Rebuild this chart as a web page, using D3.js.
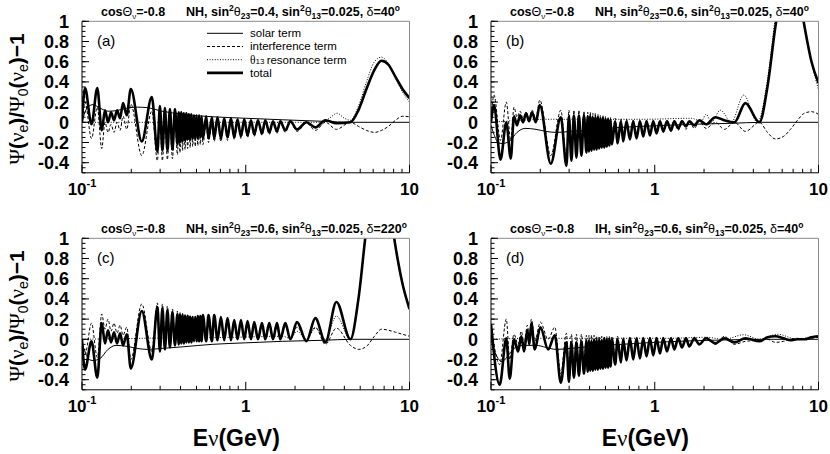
<!DOCTYPE html>
<html>
<head>
<meta charset="utf-8">
<script src="https://cdnjs.cloudflare.com/ajax/libs/d3/7.8.5/d3.min.js"></script>
<style>
	body { margin: 0; background: #fff; }
	svg { display: block; }
	text { font-family: "Liberation Sans", Arial, sans-serif; fill: #000; }
</style>
</head>
<body>
<div id="chart"></div>
<script>

///////////////////////////////////////////////////////////////////////////
///////////////////////////////// Data ////////////////////////////////////
///////////////////////////////////////////////////////////////////////////

//Panel texts
var panelLabels = ["(a)", "(b)", "(c)", "(d)"];
var hierarchy = ["NH", "NH", "NH", "IH"];
var sin23 = ["0.4", "0.6", "0.6", "0.6"];
var deltaDeg = ["40", "40", "220", "40"];
var legendLabels = ["solar term", "interference term", "resonance term", "total"];

//Axis ticks
var yTicks = [1, 0.8, 0.6, 0.4, 0.2, 0, -0.2, -0.4];
var yTickLabels = ["1", "0.8", "0.6", "0.4", "0.2", "0", "-0.2", "-0.4"];
var xMajor = [0.1, 1, 10];
var xMajorBase = ["10", "1", "10"];
var xMajorExp = ["-1", "", ""];
var xMinor = [0.2, 0.3, 0.4, 0.5, 0.6, 0.7, 0.8, 0.9, 2, 3, 4, 5, 6, 7, 8, 9];

//Energies (GeV) of the turning points
var lowNH = [0.1, 0.1043, 0.1143, 0.1240, 0.1320, 0.1382, 0.1442, 0.1504, 0.1569, 0.1637, 0.1708, 0.1781, 0.1877];
var lowIH = [0.1, 0.1130, 0.1240, 0.1301, 0.1382, 0.1463, 0.1532, 0.1592, 0.1667, 0.1715, 0.1764, 0.1851, 0.2002, 0.2232, 0.2453];
var turnE = [0.1986, 0.2318, 0.2669, 0.2888, 0.2991, 0.3098, 0.3209, 0.3324, 0.3443, 0.3567, 0.3695,
	0.3827, 0.3896, 0.3966, 0.4038, 0.4111, 0.4185, 0.4261, 0.4337, 0.4416, 0.4495, 0.4577,
	0.4659, 0.4743, 0.4829, 0.4916, 0.5005, 0.5095, 0.5187, 0.5281, 0.5376, 0.5473,
	0.5734, 0.5922, 0.6213, 0.6417, 0.6722, 0.7052, 0.7388, 0.7739, 0.8119, 0.8505,
	0.8910, 0.9346, 0.9791, 1.0256, 1.0760, 1.1272, 1.1875, 1.2563, 1.3160, 1.3923,
	1.4668, 1.5518, 1.6256, 1.7442, 1.8715, 2.0567, 2.3446, 2.6613, 3.0638, 3.5775,
	4.3571, 4.877, 5.458, 6.109, 6.742, 7.440, 8.210, 9.062, 10];

//(a) NH, sin2(23)=0.4, delta=40
var totalA = [0.0, 0.34, -0.02, 0.34, -0.08, 0.12, 0.0, 0.1, 0.02, 0.12, 0.04, 0.19, 0.07,
	0.33, -0.19, 0.25, -0.29, 0.16, -0.28, 0.14, -0.28, 0.13, -0.27, 0.13,
	-0.22, 0.1, -0.2, 0.1, -0.19, 0.09, -0.18, 0.09, -0.17, 0.08, -0.17,
	0.08, -0.16, 0.07, -0.16, 0.07, -0.16, 0.07, -0.15, 0.06, -0.16,
	0.06, -0.16, 0.05, -0.16, 0.05, -0.16, 0.04, -0.15, 0.04, -0.15,
	0.03, -0.14, 0.03, -0.13, 0.02, -0.12, 0.02, -0.11, 0.02, -0.1,
	0.01, -0.09, 0.01, -0.08, 0.01, -0.07, 0.0, -0.05, 0.02, -0.01,
	0.0, 0.12, 0.33, 0.52, 0.61, 0.57, 0.45, 0.33, 0.24];
var interfA = [0.0, 0.2, -0.16, 0.15, -0.26, 0.0, -0.1, -0.02, -0.1, 0.0, -0.08, 0.06, -0.07,
	0.18, -0.33, 0.11, -0.38, 0.04, -0.38, 0.02, -0.37, 0.02, -0.36, 0.02,
	-0.32, 0.01, -0.3, 0.01, -0.28, 0.01, -0.27, 0.0, -0.26, 0.0, -0.25,
	0.0, -0.24, -0.01, -0.24, -0.01, -0.23, -0.01, -0.22, -0.01, -0.22,
	-0.01, -0.2, -0.01, -0.19, 0.0, -0.19, 0.0, -0.18, 0.0, -0.17,
	0.0, -0.16, 0.0, -0.15, 0.0, -0.14, 0.0, -0.13, 0.0, -0.12,
	0.0, -0.11, 0.0, -0.1, 0.0, -0.09, -0.01, -0.08, 0.0, -0.07,
	0.0, -0.04, -0.08, -0.1, -0.08, -0.04, 0.02, 0.06, 0.055];
var resEA = [0.1, 2.345, 2.937, 3.241, 3.613, 4.004, 4.357, 4.877, 5.458, 6.109, 6.742, 7.44, 8.21, 9.062, 10];
var resVA = [0.0, 0.0, 0.0, 0.04, 0.09, 0.04, 0.02, 0.16, 0.4, 0.6, 0.645, 0.58, 0.44, 0.3, 0.2];

//(b) NH, sin2(23)=0.6, delta=40
var totalB = [0.0, 0.17, -0.37, 0.0, -0.36, 0.06, -0.03, 0.07, 0.0, 0.09, 0.01, 0.1, 0.0,
	0.17, -0.41, 0.05, -0.43, 0.06, -0.38, 0.07, -0.35, 0.07, -0.33, 0.07,
	-0.3, 0.06, -0.29, 0.06, -0.28, 0.05, -0.27, 0.05, -0.27, 0.05, -0.26,
	0.04, -0.25, 0.04, -0.25, 0.03, -0.24, 0.03, -0.23, 0.02, -0.22,
	0.01, -0.21, 0.01, -0.19, 0.01, -0.17, 0.01, -0.16, 0.01, -0.14,
	0.01, -0.13, 0.01, -0.11, 0.01, -0.09, 0.01, -0.08, 0.01, -0.06,
	0.01, -0.04, 0.01, -0.03, 0.02, -0.02, 0.05, 0.02, 0.0, 0.19,
	0.0, 0.35, 0.95, 1.4, 1.55, 1.35, 0.95, 0.6, 0.39];
var interfB = [0.02, 0.27, -0.18, 0.2, -0.18, 0.15, 0.05, 0.11, 0.04, 0.1, 0.04, 0.12, 0.04,
	0.22, -0.33, 0.12, -0.36, 0.12, -0.32, 0.12, -0.3, 0.12, -0.28, 0.11,
	-0.25, 0.1, -0.24, 0.1, -0.23, 0.09, -0.22, 0.09, -0.22, 0.08, -0.21,
	0.07, -0.21, 0.07, -0.2, 0.06, -0.2, 0.05, -0.19, 0.05, -0.19,
	0.04, -0.21, 0.03, -0.19, 0.03, -0.17, 0.02, -0.16, 0.02, -0.14,
	0.02, -0.13, 0.02, -0.11, 0.02, -0.1, 0.02, -0.09, 0.02, -0.08,
	0.02, -0.07, 0.01, -0.06, 0.01, -0.06, 0.0, -0.07, 0.0, -0.09,
	0.0, -0.1, -0.165, -0.14, -0.07, 0.02, 0.09, 0.105, 0.08];
var resEB = [0.1, 0.233, 0.851, 1.672, 1.925, 2.057, 2.216, 2.515, 2.937, 3.493, 4.235, 4.877, 5.458, 6.109, 6.742, 7.44, 8.21, 9.062, 10];
var resVB = [0.0, 0.03, 0.03, 0.04, 0.01, 0.08, 0.0, 0.12, 0.0, 0.27, 0.0, 0.42, 1.05, 1.6, 1.75, 1.45, 0.95, 0.6, 0.32];

//(c) NH, sin2(23)=0.6, delta=220
var totalC = [0.0, -0.3, -0.02, -0.38, 0.16, -0.04, 0.09, -0.03, 0.07, -0.04, 0.06, -0.06, 0.05,
	-0.29, 0.28, -0.2, 0.32, -0.12, 0.31, -0.1, 0.29, -0.08, 0.27, -0.06,
	0.25, -0.05, 0.24, -0.04, 0.24, -0.04, 0.23, -0.03, 0.23, -0.03, 0.22,
	-0.03, 0.22, -0.02, 0.22, -0.02, 0.23, -0.02, 0.23, -0.02, 0.24,
	-0.02, 0.24, -0.02, 0.24, -0.01, 0.22, -0.01, 0.21, -0.01, 0.19,
	0.0, 0.19, 0.0, 0.18, 0.0, 0.17, 0.0, 0.16, 0.0, 0.16,
	0.0, 0.16, 0.0, 0.16, 0.0, 0.17, -0.02, 0.21, -0.03, 0.37,
	0.0, 0.4, 1.1, 1.6, 1.75, 1.4, 0.92, 0.55, 0.3];
var interfC = [0.0, -0.15, 0.16, -0.18, 0.25, 0.1, 0.2, 0.08, 0.16, 0.06, 0.14, 0.04, 0.12,
	-0.2, 0.35, -0.12, 0.36, -0.05, 0.35, -0.03, 0.33, -0.02, 0.3, -0.01,
	0.28, -0.01, 0.27, -0.01, 0.26, -0.01, 0.25, 0.0, 0.25, 0.0, 0.24,
	0.0, 0.23, 0.0, 0.23, 0.0, 0.22, 0.0, 0.22, 0.0, 0.22,
	0.0, 0.22, 0.0, 0.21, 0.0, 0.2, 0.0, 0.19, 0.0, 0.17,
	0.0, 0.17, 0.0, 0.16, 0.0, 0.15, 0.0, 0.14, 0.0, 0.14,
	0.0, 0.13, 0.0, 0.13, 0.0, 0.12, 0.0, 0.12, -0.05, 0.11,
	-0.06, -0.1, -0.07, 0.03, 0.1, 0.09, 0.07, 0.05, 0.03];
var resEC = [0.1, 0.233, 0.851, 1.672, 1.871, 2.057, 2.345, 2.661, 3.064, 3.578, 4.357, 4.877, 5.458, 6.109, 6.742, 7.44, 8.21, 9.062, 10];
var resVC = [0.0, 0.01, 0.02, 0.03, 0.01, 0.08, 0.0, 0.11, 0.0, 0.23, 0.0, 0.42, 1.1, 1.62, 1.75, 1.42, 0.94, 0.56, 0.3];

//(d) IH, sin2(23)=0.6, delta=40
var totalD = [0.15, -0.45, 0.01, -0.39, 0.0, -0.12, 0.03, -0.12, 0.09, -0.05, 0.16, -0.1, 0.12, -0.1, 0.04,
	-0.43, -0.03, -0.42, -0.03, -0.38, -0.03, -0.36, -0.02, -0.34,
	-0.02, -0.32, -0.02, -0.31, -0.02, -0.31, -0.01, -0.3, -0.01, -0.3, -0.01,
	-0.29, -0.01, -0.29, 0.0, -0.28, 0.0, -0.28, 0.0, -0.27, 0.0,
	-0.25, 0.0, -0.23, 0.0, -0.21, 0.01, -0.2, 0.01, -0.19, 0.01,
	-0.17, 0.01, -0.16, 0.01, -0.14, 0.01, -0.12, 0.01, -0.1, 0.01,
	-0.08, 0.01, -0.07, 0.01, -0.05, 0.01, -0.04, 0.01, -0.03, 0.01,
	-0.02, 0.02, 0.03, 0.01, -0.01, 0.0, 0.0, 0.02, 0.03];
var interfD = [0.15, -0.25, 0.2, -0.2, 0.05, -0.05, 0.08, -0.05, 0.14, 0.02, 0.2, -0.02, 0.17, 0.0, 0.12,
	-0.34, 0.06, -0.33, 0.05, -0.3, 0.05, -0.28, 0.05, -0.27,
	0.04, -0.26, 0.04, -0.26, 0.04, -0.25, 0.04, -0.25, 0.03, -0.24, 0.03,
	-0.23, 0.03, -0.23, 0.03, -0.22, 0.03, -0.22, 0.03, -0.21, 0.03,
	-0.2, 0.03, -0.19, 0.02, -0.18, 0.02, -0.17, 0.02, -0.16, 0.02,
	-0.15, 0.02, -0.14, 0.02, -0.13, 0.02, -0.11, 0.02, -0.09, 0.02,
	-0.08, 0.02, -0.07, 0.02, -0.05, 0.02, -0.05, 0.03, -0.05, -0.02,
	-0.01, 0.0, -0.03, -0.02, 0.0, 0.01, 0.0, 0.01, 0.02];
var resED = [0.1, 0.176, 0.409, 1.256, 2.057, 2.661, 3.493, 4.357, 5.614, 7.44, 8.21, 10];
var resVD = [0.0, 0.01, 0.01, 0.01, 0.02, 0.0, 0.045, 0.0, 0.05, 0.0, 0.01, 0.04];

//Solar term, slowly varying
var solarE = [0.1, 0.1043, 0.1104, 0.1168, 0.1289, 0.1442, 0.1614, 0.1885, 0.217, 0.2498, 0.3086, 0.4089, 0.6239, 1.0, 1.672, 2.937, 4.481, 10];
var solarA = [0.0, 0.1, 0.16, 0.175, 0.14, 0.11, 0.115, 0.14, 0.15, 0.145, 0.11, 0.08, 0.055, 0.04, 0.025, 0.01, 0.0, 0.0];
var solarB = [-0.03, -0.12, -0.2, -0.21, -0.19, -0.1, -0.06, -0.07, -0.09, -0.1, -0.09, -0.075, -0.05, -0.035, -0.02, -0.01, 0.0, 0.0];
var solarC = [-0.04, -0.12, -0.2, -0.21, -0.19, -0.1, -0.06, -0.07, -0.09, -0.1, -0.09, -0.075, -0.05, -0.035, -0.02, -0.01, 0.0, 0.0];
var solarD = [0.0, -0.1, -0.19, -0.22, -0.15, -0.07, -0.06, -0.06, -0.08, -0.1, -0.09, -0.07, -0.05, -0.03, -0.015, -0.005, 0.0, 0.0];

///////////////////////////////////////////////////////////////////////////
//////////////////////////// Set up the svg ///////////////////////////////
///////////////////////////////////////////////////////////////////////////

var width = 830,
	height = 454;

var svg = d3.select("#chart")
	.append("svg")
	.attr("width", width)
	.attr("height", height);

var pw = 327.5,
	ph = 151.5;
var origins = [[82, 21.3], [491, 21.3], [82, 238.3], [491, 238.3]];

var energyNH = lowNH.concat(turnE),
	energyIH = lowIH.concat(turnE.slice(2));

var panels = [
	{e: energyNH, total: totalA, interf: interfA, resE: resEA, res: resVA, solar: solarA},
	{e: energyNH, total: totalB, interf: interfB, resE: resEB, res: resVB, solar: solarB},
	{e: energyNH, total: totalC, interf: interfC, resE: resEC, res: resVC, solar: solarC},
	{e: energyIH, total: totalD, interf: interfD, resE: resED, res: resVD, solar: solarD}
];

var x = d3.scaleLog().domain([0.1, 10]).range([0, pw]);
var y = d3.scaleLinear().domain([-0.5, 1]).range([ph, 0]);

var line = d3.line()
	.x(function(d) { return x(d[0]); })
	.y(function(d) { return y(d[1]); })
	.curve(d3.curveMonotoneX);

function pairs(e, v) {
	var n = Math.min(e.length, v.length);
	return d3.range(n).map(function(i) { return [e[i], v[i]]; });
}//function pairs

///////////////////////////////////////////////////////////////////////////
//////////////////////////// Draw the panels //////////////////////////////
///////////////////////////////////////////////////////////////////////////

panels.forEach(function(p, k) {
	var ox = origins[k][0],
		oy = origins[k][1];

	var g = svg.append("g")
		.attr("transform", "translate(" + ox + "," + oy + ")");

	g.append("defs").append("clipPath")
		.attr("id", "clip" + k)
		.append("rect")
		.attr("width", pw)
		.attr("height", ph);

	var plot = g.append("g").attr("clip-path", "url(#clip" + k + ")");

	//Solar term
	plot.append("path")
		.attr("d", line(pairs(solarE, p.solar)))
		.style("fill", "none")
		.style("stroke", "#000")
		.style("stroke-width", 1);

	//Resonance term
	plot.append("path")
		.attr("d", line(pairs(p.resE, p.res)))
		.style("fill", "none")
		.style("stroke", "#000")
		.style("stroke-width", 1)
		.style("stroke-dasharray", "1,1.6");

	//Interference term
	plot.append("path")
		.attr("d", line(pairs(p.e, p.interf)))
		.style("fill", "none")
		.style("stroke", "#000")
		.style("stroke-width", 1)
		.style("stroke-dasharray", "3,2");

	//Total
	plot.append("path")
		.attr("d", line(pairs(p.e, p.total)))
		.style("fill", "none")
		.style("stroke", "#000")
		.style("stroke-width", 2.6)
		.style("stroke-linejoin", "round");

	//Frame
	g.append("path")
		.attr("d", "M0,0H" + pw + "V" + ph)
		.style("fill", "none")
		.style("stroke", "#8a8a8a")
		.style("stroke-width", 1);
	g.append("path")
		.attr("d", "M0,0V" + ph + "H" + pw)
		.style("fill", "none")
		.style("stroke", "#000")
		.style("stroke-width", 1);

	//x ticks
	g.selectAll(".xmaj")
		.data(xMajor)
		.enter().append("line")
		.attr("x1", function(d) { return x(d); })
		.attr("x2", function(d) { return x(d); })
		.attr("y1", ph)
		.attr("y2", ph - 8)
		.style("stroke", "#000");
	g.selectAll(".xmin")
		.data(xMinor)
		.enter().append("line")
		.attr("x1", function(d) { return x(d); })
		.attr("x2", function(d) { return x(d); })
		.attr("y1", ph)
		.attr("y2", ph - 4)
		.style("stroke", "#000");

	//y ticks
	g.selectAll(".ymin")
		.data(y.ticks(30))
		.enter().append("line")
		.attr("x1", 0)
		.attr("x2", 3.5)
		.attr("y1", function(d) { return y(d); })
		.attr("y2", function(d) { return y(d); })
		.style("stroke", "#000");
	g.selectAll(".ymaj")
		.data(yTicks)
		.enter().append("line")
		.attr("x1", 0)
		.attr("x2", 7)
		.attr("y1", function(d) { return y(d); })
		.attr("y2", function(d) { return y(d); })
		.style("stroke", "#000");

	//y tick labels
	g.selectAll(".ylab")
		.data(yTicks)
		.enter().append("text")
		.attr("x", -13)
		.attr("y", function(d) { return y(d) + 6.5; })
		.attr("text-anchor", "end")
		.style("font-size", "18px")
		.style("font-weight", "bold")
		.text(function(d, i) { return yTickLabels[i]; });

	//x tick labels
	var xl = g.selectAll(".xlab")
		.data(xMajor)
		.enter().append("text")
		.attr("x", function(d) { return x(d); })
		.attr("y", ph + 22)
		.attr("text-anchor", "middle")
		.style("font-size", "17px")
		.style("font-weight", "bold");
	xl.append("tspan").text(function(d, i) { return xMajorBase[i]; });
	xl.append("tspan")
		.attr("dy", -8)
		.style("font-size", "11px")
		.text(function(d, i) { return xMajorExp[i]; });

	//Panel label
	g.append("text")
		.attr("x", 15)
		.attr("y", 25)
		.style("font-size", "15px")
		.text(panelLabels[k]);

	//Title above the panel
	var t1 = g.append("text")
		.attr("x", 19)
		.attr("y", -5.5)
		.style("font-size", "12.5px")
		.style("font-weight", "bold");
	t1.append("tspan").text("cos");
	t1.append("tspan").style("font-weight", "normal").text("Θ");
	t1.append("tspan").attr("dy", 3).style("font-size", "8px").style("font-weight", "normal").text("ν");
	t1.append("tspan").attr("dy", -3).text("=-0.8");

	var t2 = g.append("text")
		.attr("x", 104)
		.attr("y", -5.5)
		.style("font-size", "12.5px")
		.style("font-weight", "bold");
	t2.append("tspan").text(hierarchy[k] + ", sin");
	t2.append("tspan").attr("dy", -5).style("font-size", "8.5px").text("2");
	t2.append("tspan").attr("dy", 5).style("font-weight", "normal").text("θ");
	t2.append("tspan").attr("dy", 3).style("font-size", "8.5px").text("23");
	t2.append("tspan").attr("dy", -3).text("=" + sin23[k] + ", sin");
	t2.append("tspan").attr("dy", -5).style("font-size", "8.5px").text("2");
	t2.append("tspan").attr("dy", 5).style("font-weight", "normal").text("θ");
	t2.append("tspan").attr("dy", 3).style("font-size", "8.5px").text("13");
	t2.append("tspan").attr("dy", -3).text("=0.025, ");
	t2.append("tspan").style("font-weight", "normal").text("δ");
	t2.append("tspan").text("=" + deltaDeg[k]);
	t2.append("tspan").attr("dy", -5).style("font-size", "8.5px").text("o");

	//y axis title on the left panels
	if (k % 2 === 0) {
		var yt = svg.append("text")
			.attr("transform", "translate(24," + (oy + 12) + ") rotate(-90)")
			.attr("text-anchor", "end")
			.style("font-size", "21px");
		yt.append("tspan").style("font-family", "'Liberation Serif', serif").text("Ψ");
		yt.append("tspan").style("font-weight", "bold").text("(");
		yt.append("tspan").style("font-family", "'Liberation Serif', serif").text("ν");
		yt.append("tspan").attr("dy", 4).style("font-size", "14px").text("e");
		yt.append("tspan").attr("dy", -4).style("font-weight", "bold").text(")/");
		yt.append("tspan").style("font-family", "'Liberation Serif', serif").text("Ψ");
		yt.append("tspan").attr("dy", 4).style("font-size", "14px").text("0");
		yt.append("tspan").attr("dy", -4).style("font-weight", "bold").text("(");
		yt.append("tspan").style("font-family", "'Liberation Serif', serif").text("ν");
		yt.append("tspan").attr("dy", 4).style("font-size", "14px").text("e");
		yt.append("tspan").attr("dy", -4).style("font-weight", "bold").text(")\u22121");
	}//if

	//x axis title on the bottom panels
	if (k >= 2) {
		var xt = g.append("text")
			.attr("x", pw / 2 - 9.5)
			.attr("y", ph + 56.5)
			.attr("text-anchor", "middle")
			.style("font-size", "23px")
			.style("font-weight", "bold");
		xt.append("tspan").text("E");
		xt.append("tspan").style("font-family", "'Liberation Serif', serif").style("font-weight", "normal").text("ν");
		xt.append("tspan").text("(GeV)");
	}//if
});

///////////////////////////////////////////////////////////////////////////
///////////////////////////// Legend in (a) ///////////////////////////////
///////////////////////////////////////////////////////////////////////////

var legendStyles = [
	{w: 1, dash: null},
	{w: 1, dash: "3,2"},
	{w: 1, dash: "1,1.6"},
	{w: 2.6, dash: null}
];

var legend = svg.append("g")
	.attr("transform", "translate(207,33.3)");

legendStyles.forEach(function(s, i) {
	legend.append("line")
		.attr("x1", 0)
		.attr("x2", 36)
		.attr("y1", i * 13.2)
		.attr("y2", i * 13.2)
		.style("stroke", "#000")
		.style("stroke-width", s.w)
		.style("stroke-dasharray", s.dash);

	var lt = legend.append("text")
		.attr("x", 43)
		.attr("y", i * 13.2 + 4)
		.style("font-size", "11.5px");
	if (i === 2) {
		lt.append("tspan").style("font-family", "'Liberation Serif', serif").text("θ");
		lt.append("tspan").style("font-size", "8px").text("13 ");
	}//if
	lt.append("tspan").text(legendLabels[i]);
});

</script>
</body>
</html>
